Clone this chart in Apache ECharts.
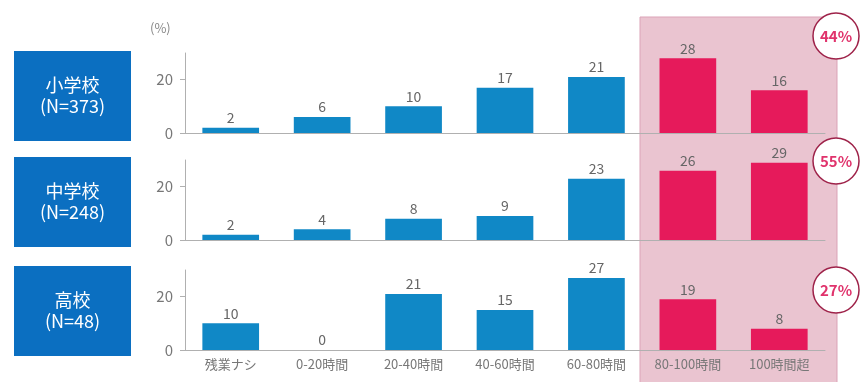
<!DOCTYPE html>
<html><head><meta charset="utf-8">
<script src="https://cdn.jsdelivr.net/npm/echarts@6/dist/echarts.min.js"></script>
<style>html,body{margin:0;padding:0;background:#fff}#c{width:861px;height:382px}</style>
</head><body><div id="c"></div>
<script>
const categories = ['残業ナシ','0-20時間','20-40時間','40-60時間','60-80時間','80-100時間','100時間超'];
const elementary = [2,6,10,17,21,28,16];
const middle = [2,4,8,9,23,26,29];
const high = [10,0,21,15,27,19,8];
const groupNames = ['小学校\n(N=373)','中学校\n(N=248)','高校\n(N=48)'];
const shares = ['44%','55%','27%'];
const highlighted = ['80-100時間','100時間超'];
const yTicks = [0,20];

const FONT = '"Noto Sans CJK JP", "Noto Sans", sans-serif';
const BLUE = '#1088c6', PINK = '#e61a5b';
const tops = [53,160,270];
const H = 80;
const seriesData = [elementary, middle, high];

const grids = tops.map(t => ({left:185, right:36, top:t, height:H}));
const xAxes = tops.map((t,i) => ({
  type:'category', gridIndex:i, data:categories,
  axisLine:{lineStyle:{color:'#b0b0b0'}}, axisTick:{show:false},
  axisLabel:{show:i===2, color:'#777', fontSize:13, fontFamily:FONT, margin:8}
}));
const yAxes = tops.map((t,i) => ({
  type:'value', gridIndex:i, min:0, max:30,
  splitLine:{show:false},
  axisLine:{show:true, lineStyle:{color:'#b0b0b0'}},
  axisTick:{show:true, customValues:yTicks, length:5, lineStyle:{color:'#b0b0b0'}},
  axisLabel:{customValues:yTicks, color:'#777', fontSize:15, fontFamily:FONT, margin:12}
}));
const series = seriesData.map((d,i) => ({
  type:'bar', xAxisIndex:i, yAxisIndex:i, data:d, barWidth:'62%', z:5,
  itemStyle:{color:p => highlighted.includes(categories[p.dataIndex]) ? PINK : BLUE},
  label:{show:true, position:'top', color:'#666', fontSize:14, fontFamily:FONT, distance:3}
}));

const boxTops = [51,157,266];
const circleY = [36,161,290];
const graphic = [
  {type:'rect', z:-10, shape:{x:640, y:17, width:197, height:380},
   style:{fill:'#eac4d0', stroke:'#dba3b7', lineWidth:1}},
  {type:'text', left:150, top:22, style:{text:'(%)', fill:'#888', font:'13px '+FONT}}
];
boxTops.forEach((y,i) => {
  graphic.push({type:'rect', shape:{x:14, y:y, width:117, height:90}, style:{fill:'#0b6fc1'}});
  graphic.push({type:'text', x:72.5, y:y+45, style:{text:groupNames[i], fill:'#fff', font:'18px '+FONT,
    align:'center', verticalAlign:'middle', lineHeight:21}});
});
circleY.forEach((cy,i) => {
  graphic.push({type:'circle', z:20, shape:{cx:836, cy:cy, r:23}, style:{fill:'#fff', stroke:'#9e2249', lineWidth:1.5}});
  graphic.push({type:'text', z:21, x:836, y:cy, style:{text:shares[i], fill:'#e0336c', font:'bold 15px '+FONT,
    align:'center', verticalAlign:'middle'}});
});

const chart = echarts.init(document.getElementById('c'));
chart.setOption({animation:false, grid:grids, xAxis:xAxes, yAxis:yAxes, series:series, graphic:graphic});
</script></body></html>
